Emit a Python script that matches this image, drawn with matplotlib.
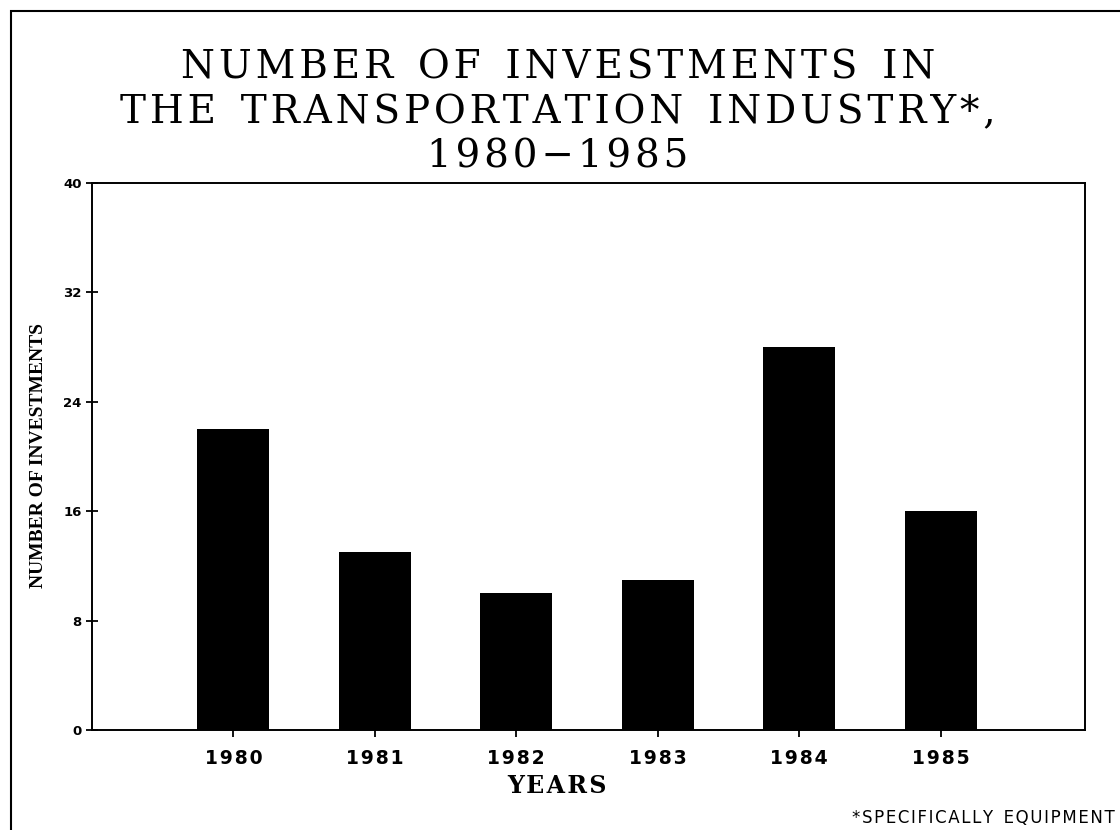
import numpy as np
import matplotlib
matplotlib.use('Agg')
from matplotlib import pyplot as plt
from matplotlib.patches import Rectangle

years = ['1980', '1981', '1982', '1983', '1984', '1985']
investments = [22, 13, 10, 11, 28, 16]
yticks = [0, 8, 16, 24, 32, 40]


def spaced(text, sep='\u2009'):
    # old plotter fonts are letter-spaced, fake it with thin spaces
    return '\n'.join('  '.join(sep.join(w) for w in line.split(' ')) for line in text.split('\n'))


fig = plt.figure(figsize=(11.2, 8.3), dpi=100)
ax = fig.add_axes([0.0821, 0.1205, 0.8866, 0.659])

x = np.arange(len(years))
ax.bar(x, investments, width=0.51, color='black')

ax.set_xlim(-1, 6.02)
ax.set_ylim(0, 40)
ax.set_yticks(yticks)
ax.set_yticklabels([str(v) for v in yticks], fontsize=9.5, fontweight='bold', family='DejaVu Sans')
ax.set_xticks(x)
ax.set_xticklabels([spaced(y, '\u200a') for y in years], fontsize=13.5, fontweight='bold', family='DejaVu Sans')
ax.tick_params(axis='y', direction='inout', length=9, width=1.3, pad=3)
ax.tick_params(axis='x', direction='out', length=5, width=1.3, pad=9)
for s in ax.spines.values():
    s.set_linewidth(1.4)

fig.text(0.497, 0.053, spaced('YEARS', '\u200a'), ha='center', va='center',
         fontsize=17, fontweight='bold', family='DejaVu Serif')
fig.text(0.034, 0.451, 'NUMBER OF INVESTMENTS', rotation=90, ha='center', va='center',
         fontsize=14, fontweight='bold', family='Liberation Serif')

fig.text(0.498, 0.7885, spaced('NUMBER OF INVESTMENTS IN\nTHE TRANSPORTATION INDUSTRY*,\n1980\u22121985', '\u200a'),
         ha='center', va='bottom', fontsize=28, family='DejaVu Serif', linespacing=1.26)

fig.text(0.995, 0.009, spaced('*SPECIFICALLY EQUIPMENT', '\u200a'), ha='right', va='baseline',
         fontsize=12, family='DejaVu Sans')

fig.patches.append(Rectangle((11 / 1120, -0.05), 1.2, 1 - 11 / 830 + 0.05, transform=fig.transFigure,
                             fill=False, edgecolor='black', linewidth=1.5))

fig.savefig('out.png', dpi=100)
